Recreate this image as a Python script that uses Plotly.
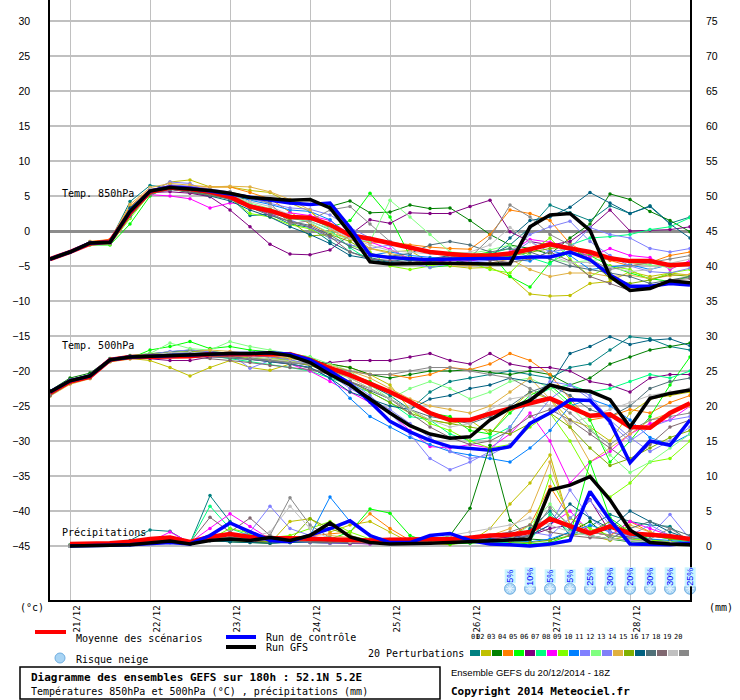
import plotly.graph_objects as go

# GEFS 20/12/2014 18Z, pas de 6h (0 = 20/12 18Z)
hours = list(range(0, 193, 6))
precip_hours = hours[1:]

day_ticks = [6, 30, 54, 78, 102, 126, 150, 174]
day_labels = ['21/12', '22/12', '23/12', '24/12', '25/12', '26/12', '27/12', '28/12']

left_ticks = list(range(-45, 31, 5))
right_ticks = list(range(0, 76, 5))

pert_colors = ['#008080', '#c0c000', '#008000', '#ff8000', '#00ff00', '#800080', '#00ff80',
               '#ff00ff', '#80ff00', '#0080ff', '#8080ff', '#80ff80', '#8080f8', '#e0b040',
               '#80b000', '#006080', '#507078', '#806870', '#c0c0c0', '#888888']

# Température 850hPa (°C)
t850_mean = [-4.0, -3.0, -1.8, -1.5, 2.6, 5.6, 6.2, 6.0, 5.6, 4.9, 3.5, 2.9, 2.0, 1.9, 0.9, -0.6, -1.1,
             -1.7, -2.3, -3.0, -3.3, -3.5, -3.5, -3.2, -2.6, -1.9, -2.5, -3.0, -3.9, -4.3, -4.3, -4.9, -4.7]
t850_ctrl = [-4.0, -3.0, -1.7, -1.6, 2.8, 5.7, 6.3, 6.1, 5.7, 5.3, 4.8, 4.5, 4.0, 3.8, 4.0, 0.5, -3.4,
             -3.8, -4.0, -4.1, -4.0, -4.0, -4.0, -3.9, -3.7, -3.7, -3.0, -4.1, -6.3, -7.9, -7.9, -7.5, -7.7]
t850_gfs = [-4.0, -3.0, -1.7, -1.6, 2.8, 5.7, 6.2, 6.0, 5.8, 5.4, 4.8, 4.6, 4.4, 4.5, 3.3, -0.3, -4.4,
            -4.7, -4.6, -4.6, -4.6, -4.7, -4.7, -4.7, 0.6, 2.3, 2.5, 0.1, -6.5, -8.5, -8.2, -7.1, -7.4]
t850_members = [
    [-4.0, -3.0, -1.6, -1.4, 4.2, 6.5, 6.2, 5.8, 5.2, 4.8, 2.2, 2.4, 1.0, 0.5, -1.5, -3.0, -3.8, -4.4, -3.9, -4.0, -4.6, -4.2, -3.5, -2.0, 0.5, 3.7, 2.6, 1.5, 3.6, 2.5, 3.6, 1.1, 2.0],
    [-4.0, -3.0, -1.8, -1.9, 2.0, 5.5, 7.0, 7.3, 6.3, 6.3, 5.8, 5.5, 4.0, 2.8, 0.3, -0.5, -2.5, -3.0, -2.8, -4.5, -5.0, -5.3, -5.2, -6.5, -9.0, -9.3, -9.2, -7.5, -7.2, -5.8, -6.5, -6.0, -6.3],
    [-4.0, -3.0, -1.7, -1.8, 2.8, 5.8, 6.0, 5.5, 5.3, 4.9, 4.5, 4.3, 4.4, 4.5, 3.5, 4.3, 2.6, 2.7, 3.7, 3.2, 3.3, 1.5, -0.5, -2.0, -2.5, -3.3, -1.0, 1.0, 5.3, 4.5, 2.8, 1.5, -0.1],
    [-4.0, -3.0, -1.5, -1.2, 3.5, 6.0, 6.3, 6.3, 6.3, 6.3, 5.5, 4.6, 2.7, 1.0, -0.3, -1.0, -1.7, -1.6, -2.0, -2.3, -2.5, -2.6, -0.5, 3.0, 2.5, 1.5, -1.8, -3.5, -4.2, -5.0, -4.5, -3.5, -3.0],
    [-4.0, -3.0, -2.0, -2.0, 1.0, 5.0, 6.5, 5.5, 5.0, 4.6, 3.8, 2.9, 2.0, 1.8, 0.5, 1.5, 5.4, 2.0, -3.6, -5.2, -4.9, -3.5, -3.0, -6.5, -8.0, -4.5, -3.0, -3.5, -5.0, -6.0, -6.8, -7.2, -6.5],
    [-4.0, -3.0, -1.7, -1.6, 2.3, 5.5, 5.6, 5.4, 4.9, 3.0, 0.6, -1.9, -3.3, -3.4, -2.7, -0.5, 1.6, 1.1, 2.6, 2.5, 2.5, 3.5, 4.4, -0.1, -1.5, -2.0, -1.5, 0.5, 3.0, 0.0, 0.1, 0.2, 0.6],
    [-4.0, -3.0, -1.6, -1.5, 3.0, 5.8, 6.1, 5.9, 5.5, 5.0, 3.6, 2.6, 1.8, 1.4, 0.2, -2.4, -4.2, -4.8, -4.6, -4.3, -4.0, -3.6, -3.2, -2.5, -3.8, -4.7, -2.0, -1.0, -0.8, -0.5, 0.2, 0.6, 1.9],
    [-4.0, -3.0, -1.9, -1.6, 2.5, 5.2, 5.0, 4.6, 3.3, 4.0, 3.8, 2.2, 2.6, 2.2, 1.5, -0.5, -1.5, -2.6, -4.0, -4.5, -4.2, -4.3, -3.8, -3.0, -1.2, -1.6, -2.3, -3.7, -2.5, -3.5, -3.8, -5.5, -4.2],
    [-4.0, -3.0, -1.7, -1.9, 1.8, 5.3, 6.0, 5.7, 5.1, 4.7, 2.5, 2.0, 0.9, 0.3, -1.0, -2.0, -3.0, -5.0, -5.5, -5.0, -4.6, -4.5, -5.5, -6.0, -3.0, -1.0, -4.0, -6.5, -5.0, -5.5, -7.0, -6.0, -5.5],
    [-4.0, -3.0, -1.6, -1.6, 3.2, 5.9, 6.4, 6.2, 5.8, 5.4, 4.4, 3.8, 3.0, 2.8, 1.6, -0.8, -3.5, -3.0, -3.5, -3.8, -4.0, -3.5, -3.5, -4.0, -4.3, -2.8, -3.5, -5.5, -5.2, -4.8, -5.5, -4.8, -4.6],
    [-4.0, -3.0, -1.8, -1.7, 2.6, 5.6, 7.0, 6.8, 5.4, 4.5, 3.8, 3.0, 1.6, 0.5, -1.0, -2.0, -2.5, -2.0, -4.6, -5.2, -4.7, -4.4, -4.2, -3.4, -1.5, -3.0, -2.5, 0.5, -0.5, -1.0, -2.5, -3.0, -2.5],
    [-4.0, -3.0, -1.7, -1.8, 2.0, 5.4, 6.6, 6.0, 5.6, 5.0, 4.0, 3.2, 2.2, 1.2, -0.3, -1.2, -1.5, 4.4, 2.0, -0.5, -3.0, -3.2, -2.7, -2.0, -3.5, -4.0, -4.5, -4.2, -4.0, -4.5, -4.8, -5.2, -4.8],
    [-4.0, -3.0, -1.8, -1.5, 2.9, 5.7, 6.6, 6.4, 6.0, 5.6, 4.6, 4.0, 3.3, 3.1, 2.3, 0.5, -1.0, -1.5, -2.5, -3.0, -3.2, -3.6, -4.0, -3.3, -0.5, 0.6, 1.4, -1.5, -3.5, -5.0, -5.8, -6.0, -5.3],
    [-4.0, -3.0, -1.5, -1.3, 3.8, 6.2, 6.8, 6.6, 6.3, 6.4, 6.3, 5.6, 4.5, 3.0, 0.2, -1.2, -2.5, -3.2, -3.8, -4.2, -4.8, -5.0, -4.6, -4.0, -5.5, -6.5, -6.0, -6.0, -6.5, -6.3, -6.8, -6.4, -6.2],
    [-4.0, -3.0, -1.7, -1.7, 2.4, 5.6, 6.0, 5.8, 5.4, 4.9, 3.6, 3.1, 1.5, -0.7, -0.5, -1.5, -3.2, -3.8, -4.2, -4.0, -3.8, -4.0, -3.9, -3.6, -3.0, -2.5, -2.2, -4.2, -6.8, -7.5, -7.0, -6.2, -6.5],
    [-4.0, -3.0, -1.6, -1.6, 3.3, 5.9, 6.0, 5.6, 5.0, 4.3, 3.0, 2.0, 0.6, -0.5, -1.8, -3.5, -4.0, -4.5, -4.2, -4.0, -3.5, -3.5, -3.8, -1.0, 1.5, 2.0, 3.4, 5.5, 4.0, 2.5, 3.5, 1.0, -1.0],
    [-4.0, -3.0, -1.8, -1.8, 2.1, 5.3, 5.9, 5.7, 5.3, 4.5, 3.4, 2.2, 1.4, 0.8, -0.6, -2.2, -3.4, -3.6, -3.2, -2.0, -1.5, -2.0, -3.0, -2.5, -3.0, -4.0, -5.0, -5.5, -6.0, -6.5, -7.5, -7.0, -6.5],
    [-4.0, -3.0, -1.6, -1.8, 2.7, 5.5, 6.0, 5.6, 5.1, 4.6, 3.3, 2.5, 1.3, 0.6, -0.8, -3.0, -4.0, -4.2, -4.5, -4.1, -3.6, -3.8, -4.2, -4.5, -4.0, -3.0, -4.3, -6.5, -7.5, -8.5, -8.0, -7.0, -6.8],
    [-4.0, -3.0, -1.7, -1.6, 2.9, 6.0, 6.2, 5.9, 5.5, 5.1, 4.2, 3.5, 2.3, 1.3, 0.4, -1.0, -2.0, -2.8, -3.0, -3.2, -3.5, -3.0, -2.0, 0.5, -1.5, -3.5, -4.5, -4.5, -5.2, -5.8, -5.5, -4.6, -4.0],
    [-4.0, -3.0, -1.8, -1.7, 2.2, 5.8, 6.3, 6.0, 5.8, 5.6, 4.8, 4.0, 1.0, 1.5, 3.0, 3.5, 1.0, -1.5, -2.5, -3.0, -3.4, -3.8, -1.0, 3.7, 2.0, -0.5, -2.0, -4.0, -5.5, -5.0, -4.5, -4.0, -3.5],
]

# Température 500hPa (°C)
t500_mean = [-23.1, -21.5, -20.8, -18.4, -18.0, -18.0, -18.0, -17.9, -17.6, -17.6, -17.6, -17.5, -17.6, -18.4, -19.6, -20.6, -21.8,
             -23.0, -24.4, -26.0, -27.0, -27.0, -26.1, -25.3, -24.6, -23.9, -25.2, -26.4, -26.2, -28.0, -28.1, -26.0, -24.6]
t500_ctrl = [-23.0, -21.4, -20.7, -18.4, -18.0, -17.9, -17.8, -17.7, -17.5, -17.5, -17.5, -17.4, -17.6, -18.4, -20.0, -21.8, -24.4,
             -27.2, -28.7, -29.9, -30.8, -31.0, -31.3, -30.8, -27.5, -26.0, -24.1, -24.2, -27.2, -33.1, -30.0, -30.6, -27.0]
t500_gfs = [-23.0, -21.4, -20.7, -18.4, -18.0, -17.9, -17.8, -17.7, -17.5, -17.5, -17.5, -17.4, -17.8, -18.8, -20.5, -22.0, -24.0,
            -26.0, -27.8, -29.0, -29.6, -29.4, -27.0, -25.3, -24.2, -22.0, -22.7, -22.9, -24.1, -28.0, -23.9, -23.2, -22.7]
t500_members = [
    [-23.0, -21.3, -20.5, -18.3, -18.0, -17.8, -17.5, -17.2, -17.5, -17.8, -18.0, -18.5, -18.8, -19.0, -19.5, -20.5, -22.0, -23.5, -25.5, -23.0, -21.5, -21.0, -20.5, -20.0, -20.5, -21.0, -19.5, -19.0, -17.0, -15.1, -15.4, -16.5, -17.0],
    [-23.5, -21.8, -21.0, -18.6, -18.2, -18.5, -19.5, -20.7, -19.5, -18.5, -19.5, -19.9, -19.0, -18.5, -19.0, -19.5, -20.5, -22.0, -25.5, -27.0, -27.5, -27.0, -29.0, -25.5, -23.0, -24.0, -27.0, -28.0, -30.0, -26.0, -24.0, -23.5, -23.0],
    [-22.8, -21.0, -20.3, -18.2, -17.8, -17.5, -17.3, -17.0, -17.2, -17.5, -17.8, -18.0, -18.2, -18.5, -19.0, -19.5, -20.5, -21.0, -20.5, -20.0, -20.0, -19.8, -20.2, -20.5, -20.0, -20.5, -22.0, -21.0, -19.0, -18.0, -17.0, -16.5, -16.0],
    [-23.2, -21.5, -20.8, -18.5, -18.0, -17.8, -17.5, -17.5, -17.5, -17.3, -17.6, -18.0, -18.5, -19.0, -19.5, -20.0, -20.5, -20.5, -21.0, -20.5, -19.5, -19.8, -19.0, -17.5, -18.5, -20.5, -24.0, -27.0, -26.5, -25.5, -26.0, -24.5, -23.5],
    [-23.5, -21.8, -21.0, -18.6, -18.2, -17.0, -16.5, -15.8, -16.8, -16.5, -17.0, -17.2, -17.5, -18.0, -19.5, -20.5, -21.5, -23.0, -24.5, -26.0, -26.5, -28.5, -29.0, -26.0, -23.5, -22.0, -24.5, -27.0, -33.0, -30.0, -26.5, -22.0, -18.0],
    [-23.0, -21.2, -20.6, -18.4, -18.0, -18.2, -18.5, -18.5, -18.0, -18.0, -18.2, -18.5, -18.8, -19.0, -18.8, -18.5, -18.5, -18.5, -18.0, -17.5, -18.5, -19.0, -17.5, -19.0, -19.5, -19.5, -20.0, -21.5, -22.0, -23.0, -21.0, -20.5, -20.5],
    [-23.3, -21.6, -20.9, -18.5, -18.1, -17.8, -17.6, -17.4, -17.8, -18.2, -18.6, -19.0, -19.5, -20.0, -21.0, -22.0, -23.0, -24.5, -26.5, -27.0, -29.0, -30.0, -29.5, -28.0, -24.0, -22.5, -22.0, -23.0, -22.5, -21.5, -20.5, -21.0, -20.0],
    [-23.0, -21.4, -20.7, -18.4, -18.0, -17.9, -17.5, -17.8, -17.2, -18.0, -18.3, -18.6, -19.0, -20.0, -21.5, -23.0, -24.5, -26.0, -28.5, -30.8, -31.0, -30.5, -31.0, -29.0, -26.0, -30.0, -36.0, -33.0, -31.5, -29.0, -27.5, -27.0, -25.0],
    [-23.4, -21.7, -21.0, -18.6, -18.1, -17.8, -17.7, -17.6, -17.8, -17.9, -18.0, -18.2, -18.5, -19.0, -20.0, -21.0, -22.5, -24.0, -25.5, -27.5, -28.5, -30.0, -31.0, -30.5, -28.0, -26.0, -30.0, -35.0, -38.0, -36.0, -33.0, -32.5, -30.0],
    [-23.1, -21.5, -20.8, -18.4, -18.0, -17.8, -17.5, -17.5, -17.6, -17.7, -18.0, -18.5, -19.0, -19.5, -21.0, -23.9, -26.5, -28.0, -29.5, -30.5, -31.5, -32.0, -32.5, -33.0, -31.0, -28.5, -25.0, -24.0, -25.0, -27.0, -29.5, -30.5, -29.0],
    [-23.2, -21.6, -20.9, -18.5, -18.0, -17.6, -17.2, -17.0, -17.3, -17.5, -19.6, -18.5, -18.8, -19.2, -20.0, -21.5, -23.5, -26.0, -29.0, -32.5, -34.1, -33.0, -31.5, -28.0, -24.0, -21.5, -22.0, -24.0, -27.5, -30.0, -28.0, -27.0, -26.5],
    [-23.0, -21.3, -20.6, -18.3, -17.9, -17.5, -16.0, -16.8, -17.0, -15.8, -16.5, -17.0, -17.5, -18.0, -19.0, -20.0, -22.0, -24.0, -22.5, -21.5, -22.5, -24.0, -23.0, -21.5, -21.0, -22.5, -25.0, -28.0, -32.0, -34.5, -33.0, -31.0, -29.0],
    [-23.3, -21.5, -20.8, -18.5, -18.1, -17.9, -17.7, -17.5, -17.4, -17.6, -17.8, -18.0, -18.4, -19.0, -20.5, -22.5, -24.0, -25.5, -27.5, -29.5, -31.5, -32.5, -32.0, -30.5, -27.5, -24.0, -22.0, -23.5, -27.0, -29.5, -31.5, -30.0, -28.0],
    [-23.6, -21.9, -21.1, -18.7, -18.3, -18.0, -17.5, -17.2, -17.0, -17.2, -17.5, -17.8, -18.2, -18.6, -19.2, -20.0, -21.0, -22.5, -24.0, -25.0, -25.5, -26.0, -25.0, -23.0, -21.0, -24.0, -28.0, -33.0, -31.0, -29.0, -27.0, -26.0, -25.0],
    [-23.2, -21.4, -20.7, -18.4, -18.0, -17.6, -17.4, -17.2, -17.4, -17.7, -18.0, -18.4, -18.7, -19.2, -20.2, -21.5, -23.0, -24.5, -26.0, -27.0, -27.5, -28.0, -28.5, -29.0, -27.5, -26.0, -28.0, -31.0, -33.5, -32.5, -31.0, -29.5, -28.5],
    [-23.0, -21.3, -20.6, -18.3, -17.9, -17.7, -17.5, -17.3, -17.6, -17.9, -18.3, -18.7, -19.0, -19.5, -21.0, -23.0, -24.0, -25.0, -25.5, -24.0, -23.5, -22.5, -22.0, -21.0, -21.5, -22.0, -17.5, -16.5, -15.1, -16.2, -15.6, -15.4, -16.4],
    [-23.4, -21.6, -20.9, -18.5, -18.1, -17.9, -17.8, -17.7, -17.9, -18.1, -18.3, -18.6, -19.0, -19.6, -20.5, -21.5, -22.8, -24.0, -25.5, -26.5, -27.0, -27.5, -26.5, -25.0, -23.0, -22.0, -23.5, -25.5, -26.5, -25.0, -22.5, -21.5, -21.0],
    [-23.5, -21.7, -21.0, -18.6, -18.2, -18.0, -17.9, -18.0, -18.2, -18.5, -18.8, -19.2, -19.5, -19.8, -20.5, -21.5, -22.5, -24.0, -26.0, -28.0, -29.5, -30.5, -30.0, -28.5, -26.5, -25.5, -27.0, -29.0, -31.0, -33.0, -30.5, -28.0, -27.0],
    [-23.1, -21.4, -20.7, -18.4, -18.0, -17.7, -17.4, -17.3, -17.5, -17.7, -18.0, -18.3, -18.6, -19.0, -19.8, -21.0, -22.5, -24.0, -25.5, -27.0, -28.0, -27.5, -25.5, -24.0, -23.5, -25.0, -27.5, -26.5, -25.5, -24.5, -23.5, -23.0, -22.5],
    [-23.3, -21.5, -20.8, -18.5, -18.0, -17.9, -17.6, -17.5, -17.8, -18.0, -18.2, -18.5, -18.8, -19.0, -19.5, -20.0, -20.5, -20.5, -20.0, -19.5, -19.5, -20.0, -20.5, -21.0, -22.5, -24.0, -26.0, -28.5, -30.5, -28.5, -27.0, -26.5, -26.0],
]

# Précipitations (mm / 6h), à partir de 21/12 00Z
precip_mean = [0.3, 0.3, 0.4, 0.6, 1.0, 1.2, 0.6, 1.3, 1.7, 1.3, 1.1, 1.1, 1.0, 0.9, 0.8, 0.8,
               0.9, 0.9, 0.9, 1.0, 1.2, 1.5, 1.6, 2.0, 3.9, 2.8, 1.8, 2.8, 1.8, 1.6, 1.4, 1.0]
precip_ctrl = [0.0, 0.0, 0.1, 0.2, 0.4, 0.5, 0.3, 1.5, 3.3, 2.0, 0.8, 0.6, 1.5, 2.5, 3.6, 1.5,
               0.5, 0.5, 1.5, 1.8, 0.8, 0.3, 0.2, 0.0, 0.3, 0.8, 7.8, 3.7, 0.3, 0.2, 0.2, 0.4]
precip_gfs = [0.0, 0.0, 0.1, 0.2, 0.5, 0.7, 0.3, 0.8, 1.0, 0.8, 1.2, 0.8, 1.5, 3.3, 1.3, 0.5,
              0.3, 0.3, 0.4, 0.5, 0.6, 0.8, 0.8, 1.0, 8.0, 8.7, 9.9, 6.6, 2.3, 0.5, 0.3, 0.2]
precip_members = [
    [0.2, 0.3, 0.4, 0.8, 2.3, 2.1, 0.4, 7.2, 3.5, 1.5, 0.8, 0.5, 1.2, 0.6, 0.4, 0.3, 0.5, 0.6, 0.8, 1.0, 1.3, 0.5, 0.3, 2.5, 5.0, 1.5, 2.8, 4.5, 3.5, 3.0, 2.8, 0.5],
    [0.0, 0.1, 0.2, 0.3, 0.5, 0.7, 0.3, 1.0, 0.8, 0.6, 0.4, 3.5, 3.9, 2.0, 3.0, 3.5, 2.0, 0.5, 0.4, 0.2, 0.6, 2.5, 6.0, 9.0, 13.0, 3.0, 1.5, 0.8, 1.5, 1.0, 0.5, 0.3],
    [0.0, 0.1, 0.1, 0.2, 0.4, 0.5, 0.3, 0.8, 0.6, 0.5, 0.4, 0.6, 0.5, 0.4, 0.5, 0.6, 0.5, 0.4, 0.8, 1.5, 5.4, 14.4, 3.7, 1.0, 0.8, 2.0, 3.5, 1.0, 0.6, 0.4, 0.3, 0.2],
    [0.1, 0.2, 0.3, 0.5, 0.6, 0.8, 0.4, 1.0, 1.2, 0.9, 0.7, 1.2, 1.5, 1.8, 2.0, 4.6, 2.5, 0.8, 0.5, 0.4, 0.5, 0.8, 1.5, 3.0, 8.5, 4.0, 2.0, 1.5, 3.5, 2.0, 1.0, 0.6],
    [0.0, 0.1, 0.2, 0.4, 0.6, 0.8, 0.5, 1.5, 1.0, 0.8, 0.6, 0.5, 0.6, 1.0, 2.0, 5.3, 4.7, 1.5, 0.5, 0.3, 0.4, 0.6, 0.5, 0.3, 0.5, 1.5, 12.0, 4.0, 2.0, 1.0, 0.5, 0.3],
    [0.0, 0.1, 0.2, 0.3, 0.5, 0.6, 0.4, 0.8, 1.0, 0.7, 0.6, 0.5, 0.5, 0.6, 0.8, 1.0, 0.8, 0.6, 0.5, 0.6, 0.8, 1.0, 1.2, 1.5, 2.5, 3.0, 6.6, 2.0, 1.2, 0.8, 0.5, 0.4],
    [0.1, 0.2, 0.3, 0.5, 0.8, 1.0, 0.5, 5.7, 2.5, 1.5, 1.0, 0.8, 0.6, 0.5, 0.4, 0.4, 0.5, 0.6, 0.8, 1.0, 0.8, 0.6, 0.5, 0.8, 4.5, 2.0, 1.5, 1.0, 0.8, 1.5, 1.0, 0.6],
    [0.0, 0.1, 0.2, 0.3, 0.6, 2.0, 0.5, 2.5, 4.6, 2.8, 1.0, 0.6, 0.5, 0.4, 0.3, 0.3, 0.4, 0.5, 0.6, 0.8, 1.0, 0.8, 1.0, 1.5, 3.0, 5.0, 2.0, 1.5, 3.5, 2.5, 1.5, 0.8],
    [0.1, 0.1, 0.2, 0.4, 0.5, 0.7, 0.4, 1.0, 2.5, 1.8, 1.2, 1.5, 2.5, 3.5, 2.0, 1.0, 0.6, 0.5, 0.4, 0.5, 0.6, 0.8, 1.0, 1.5, 10.0, 4.0, 2.5, 1.5, 1.0, 0.8, 0.6, 0.5],
    [0.0, 0.1, 0.1, 0.2, 0.4, 0.5, 0.3, 0.8, 1.0, 0.8, 0.7, 0.8, 1.5, 7.0, 3.5, 1.5, 0.8, 0.6, 0.5, 0.6, 0.8, 1.0, 0.8, 0.6, 1.0, 2.0, 3.0, 2.0, 1.5, 1.0, 0.8, 0.5],
    [0.0, 0.1, 0.2, 0.3, 0.5, 0.6, 0.4, 0.8, 1.2, 2.0, 5.7, 2.5, 1.5, 0.8, 0.6, 0.5, 0.4, 0.5, 0.6, 0.8, 1.0, 1.2, 1.5, 2.0, 1.5, 4.0, 6.5, 3.0, 2.0, 1.5, 4.5, 1.0],
    [0.1, 0.2, 0.3, 0.4, 0.6, 0.8, 0.5, 1.0, 1.2, 1.0, 0.8, 0.6, 0.5, 0.5, 0.6, 0.8, 1.0, 0.8, 0.6, 0.5, 0.6, 0.8, 1.0, 3.0, 6.0, 2.5, 1.5, 1.0, 0.8, 0.6, 0.5, 0.4],
    [0.0, 0.1, 0.2, 0.3, 0.5, 0.7, 0.4, 0.9, 1.1, 0.9, 0.7, 0.6, 0.5, 0.4, 0.5, 0.6, 0.7, 0.8, 1.0, 1.2, 1.0, 0.8, 1.0, 1.5, 3.0, 8.0, 4.0, 2.0, 1.5, 3.0, 1.5, 0.8],
    [0.1, 0.2, 0.3, 0.5, 0.7, 0.9, 0.5, 1.2, 1.5, 1.2, 1.0, 0.8, 0.7, 1.5, 1.2, 0.8, 0.6, 0.5, 0.6, 0.8, 1.0, 1.5, 2.5, 5.0, 12.0, 3.0, 2.0, 1.5, 3.0, 2.0, 1.2, 0.8],
    [0.0, 0.1, 0.2, 0.3, 0.5, 0.6, 0.4, 0.8, 1.0, 0.8, 0.6, 0.8, 3.9, 2.5, 1.5, 0.8, 0.6, 0.5, 0.4, 0.5, 0.6, 0.8, 0.6, 0.5, 0.8, 1.5, 2.0, 3.5, 2.0, 1.5, 1.0, 0.8],
    [0.0, 0.1, 0.2, 0.3, 0.4, 0.6, 0.3, 0.8, 0.6, 0.5, 0.4, 0.5, 0.6, 0.5, 0.4, 0.5, 0.6, 0.5, 0.4, 0.6, 0.8, 1.0, 0.8, 1.5, 3.0, 6.0, 4.0, 2.5, 5.0, 3.5, 2.0, 1.0],
    [0.1, 0.2, 0.3, 0.5, 0.7, 0.8, 0.5, 1.0, 1.2, 1.0, 0.8, 0.7, 0.6, 0.5, 0.5, 0.6, 0.8, 1.0, 0.8, 0.6, 0.5, 0.8, 1.0, 2.0, 4.0, 2.5, 1.5, 1.0, 2.5, 3.5, 2.5, 1.5],
    [0.0, 0.1, 0.2, 0.4, 0.6, 0.8, 0.5, 4.1, 2.0, 4.0, 1.5, 0.8, 0.6, 0.5, 0.4, 0.4, 0.5, 0.6, 0.8, 1.0, 1.2, 1.5, 2.0, 3.0, 2.0, 1.5, 1.2, 1.0, 0.8, 0.6, 0.5, 0.4],
    [0.0, 0.1, 0.2, 0.3, 0.5, 0.6, 0.4, 0.8, 1.0, 1.2, 2.0, 5.7, 2.5, 1.0, 0.6, 0.5, 0.6, 0.8, 1.0, 1.5, 2.0, 2.5, 3.0, 4.0, 3.0, 2.0, 1.5, 1.0, 0.8, 0.6, 0.5, 0.4],
    [0.1, 0.2, 0.3, 0.4, 0.6, 0.7, 0.4, 1.0, 1.3, 1.0, 1.5, 6.9, 3.0, 1.2, 0.8, 0.6, 0.5, 0.6, 0.8, 1.0, 0.8, 0.6, 0.8, 1.5, 5.5, 3.0, 2.0, 1.5, 1.2, 1.0, 2.5, 0.8],
]

# Risque neige (%)
snow_hours = [138, 144, 150, 156, 162, 168, 174, 180, 186, 192]
snow_pct = [5, 10, 5, 5, 25, 30, 20, 30, 30, 25]

MONO = 'DejaVu Sans Mono'
SANS = 'Liberation Sans'


def px(x):
    return (x - 50) / 640


def py(y):
    return (600 - y) / 600


fig = go.Figure()

for i, col in enumerate(pert_colors):
    mk = dict(size=3.5, color=col)
    fig.add_trace(go.Scatter(x=hours, y=t850_members[i], mode='lines+markers',
                             line=dict(color=col, width=1), marker=mk))
    fig.add_trace(go.Scatter(x=hours, y=t500_members[i], mode='lines+markers',
                             line=dict(color=col, width=1), marker=mk))
    fig.add_trace(go.Scatter(x=precip_hours, y=precip_members[i], mode='lines+markers', yaxis='y2',
                             line=dict(color=col, width=1), marker=mk))

for ys, yp, col, w in [(t850_mean, precip_mean, '#ff0000', 4.5),
                       (t850_ctrl, precip_ctrl, '#0000ff', 3.5),
                       (t850_gfs, precip_gfs, '#000000', 3.5)]:
    fig.add_trace(go.Scatter(x=hours, y=ys, mode='lines', line=dict(color=col, width=w)))
    fig.add_trace(go.Scatter(x=precip_hours, y=yp, mode='lines', yaxis='y2',
                             line=dict(color=col, width=w)))

for ys, col, w in [(t500_mean, '#ff0000', 4.5), (t500_ctrl, '#0000ff', 3.5), (t500_gfs, '#000000', 3.5)]:
    fig.add_trace(go.Scatter(x=hours, y=ys, mode='lines', line=dict(color=col, width=w)))

# icones neige
fig.add_trace(go.Scatter(x=snow_hours, y=[-51.1] * len(snow_hours), mode='markers', cliponaxis=False,
                         marker=dict(symbol='circle', size=11, color='#a8d4f4',
                                     line=dict(color='#70aee0', width=1))))
fig.add_trace(go.Scatter(x=snow_hours, y=[-51.1] * len(snow_hours), mode='markers', cliponaxis=False,
                         marker=dict(symbol='asterisk-open', size=7, color='#eef8ff',
                                     line=dict(color='#eef8ff', width=1))))

annotations = []
for h, p in zip(snow_hours, snow_pct):
    annotations.append(dict(x=h, y=-49.4, xref='x', yref='y', text=f'{p}%', showarrow=False,
                            textangle=-90, font=dict(family=SANS, size=9, color='#0000ff'),
                            bgcolor='#c8f4ff', borderpad=0))

texts = [
    ('Temp. 850hPa', 60, 193, 'left', MONO, 10, False),
    ('Temp. 500hPa', 60, 345, 'left', MONO, 10, False),
    ('Précipitations', 60, 532, 'left', MONO, 10, False),
    ('(°c)', 32, 607, 'center', MONO, 10, False),
    ('(mm)', 721, 607, 'center', MONO, 10, False),
    ('Moyenne des scénarios', 74, 638, 'left', MONO, 10, False),
    ('Run de contrôle', 264, 637, 'left', MONO, 10, False),
    ('Run GFS', 264, 647, 'left', MONO, 10, False),
    ('Risque neige', 74, 659, 'left', MONO, 10, False),
    ('20 Perturbations', 466, 653, 'right', MONO, 10, False),
    ('Diagramme des ensembles GEFS sur 180h : 52.1N 5.2E', 29, 677, 'left', MONO, 11, True),
    ('Températures 850hPa et 500hPa (°C) , précipitations (mm)', 29, 691, 'left', MONO, 10, False),
    ('Ensemble GEFS du 20/12/2014 - 18Z', 449, 672, 'left', SANS, 9.5, False),
    ('Copyright 2014 Meteociel.fr', 449, 691, 'left', MONO, 11, True),
]
for t, x, y, anc, fam, sz, bold in texts:
    annotations.append(dict(x=px(x), y=py(y), xref='paper', yref='paper', text=f'<b>{t}</b>' if bold else t,
                            showarrow=False, xanchor=anc, yanchor='middle',
                            font=dict(family=fam, size=sz, color='black')))

shapes = [
    dict(type='line', xref='paper', yref='paper', x0=px(35), x1=px(66), y0=py(632), y1=py(632),
         line=dict(color='#ff0000', width=4)),
    dict(type='line', xref='paper', yref='paper', x0=px(226), x1=px(256), y0=py(637), y1=py(637),
         line=dict(color='#0000ff', width=4)),
    dict(type='line', xref='paper', yref='paper', x0=px(226), x1=px(256), y0=py(647), y1=py(647),
         line=dict(color='#000000', width=4)),
    dict(type='circle', xref='paper', yref='paper', x0=px(55), x1=px(65), y0=py(653), y1=py(663),
         fillcolor='#a8d4f4', line=dict(color='#70aee0', width=1)),
    dict(type='rect', xref='paper', yref='paper', x0=px(20), x1=px(440), y0=py(667), y1=py(699),
         line=dict(color='black', width=1.5)),
]
for k, col in enumerate(pert_colors):
    x0 = 470 + 11 * k
    shapes.append(dict(type='rect', xref='paper', yref='paper', x0=px(x0), x1=px(x0 + 10),
                       y0=py(650), y1=py(656), fillcolor=col, line=dict(width=0)))
    annotations.append(dict(x=px(x0 + 5), y=py(643), xref='paper', yref='paper', text=f'{k + 1:02d}',
                            showarrow=False, font=dict(family=MONO, size=7, color='black')))

fig.update_layout(
    width=740, height=700,
    margin=dict(l=50, r=50, t=0, b=100),
    paper_bgcolor='white', plot_bgcolor='white',
    showlegend=False, hovermode=False,
    annotations=annotations, shapes=shapes,
    xaxis=dict(range=[0, 192], tickvals=day_ticks, ticktext=day_labels, tickangle=-90,
               showgrid=True, gridcolor='#c0c0c0', gridwidth=1, zeroline=False,
               showline=True, linecolor='black', linewidth=1.5, ticks='',
               ticklabelstandoff=0, ticklabelshift=7,
               tickfont=dict(family=MONO, size=9, color='black')),
    yaxis=dict(range=[-52.71, 33], tickvals=left_ticks, showgrid=True, gridcolor='#c0c0c0',
               gridwidth=1.5, zeroline=True, zerolinecolor='#8c8c8c', zerolinewidth=2.5,
               showline=True, mirror=True, linecolor='black', linewidth=1.5, ticks='',
               ticklabelstandoff=16, tickfont=dict(family=SANS, size=10.5, color='black')),
    yaxis2=dict(range=[-7.71, 78], tickvals=right_ticks, overlaying='y', side='right',
                showgrid=False, zeroline=False, showline=False, ticks='',
                ticklabelstandoff=15, tickfont=dict(family=SANS, size=10.5, color='black')),
)

# la page par défaut a une marge de 8px autour du graphique
fig.write_html('out.html', config={'displayModeBar': False},
               post_script="document.body.style.margin='0px';")
